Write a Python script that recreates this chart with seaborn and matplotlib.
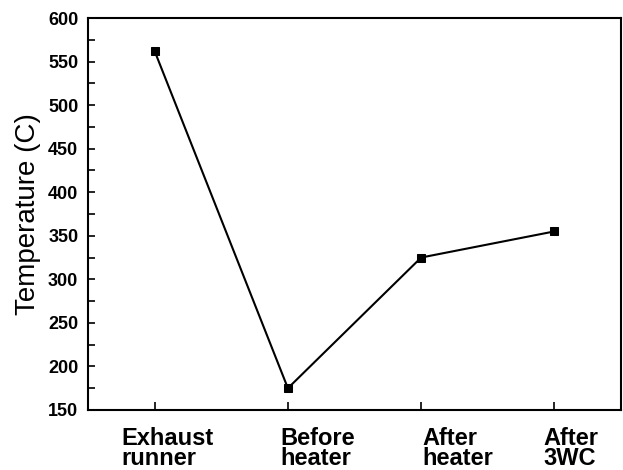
import matplotlib
matplotlib.use("Agg")
import matplotlib.pyplot as plt
import matplotlib.transforms as mtransforms
import seaborn as sns
import pandas as pd
from matplotlib.ticker import MultipleLocator

categories = ["Exhaust\nrunner", "Before\nheater", "After\nheater", "After\n3WC"]
temperatures = [562, 175, 325, 355]
# horizontal offsets of the category labels (left edge, relative to the tick)
label_offsets = [-0.25, -0.06, 0.01, -0.08]

df = pd.DataFrame({"pos": list(range(len(categories))), "temp": temperatures})

sns.set_style("ticks")
plt.rcParams["font.family"] = ["Liberation Sans", "DejaVu Sans"]
plt.rcParams.update({"text.color": "black", "axes.labelcolor": "black",
                     "xtick.color": "black", "ytick.color": "black",
                     "axes.edgecolor": "black"})

fig = plt.figure(figsize=(6.23, 4.70), dpi=100)
ax = fig.add_axes([0.1413, 0.1277, 0.8555, 0.834])

sns.lineplot(data=df, x="pos", y="temp", ax=ax, color="black", linewidth=1.5,
             marker="s", markersize=6, markeredgecolor="black", markerfacecolor="black")

ax.set_xlim(-0.5, 3.5)
ax.set_ylim(150, 600)
ax.set_xticks(range(len(categories)))
ax.set_xticklabels([])
trans = mtransforms.blended_transform_factory(ax.transData, ax.transAxes)
for i, (lab, off) in enumerate(zip(categories, label_offsets)):
    ax.text(i + off, -0.043, lab, transform=trans, ha="left", va="top",
            fontsize=17, fontweight="bold", linespacing=0.85, multialignment="left",
            color="black")

ax.yaxis.set_major_locator(MultipleLocator(50))
ax.yaxis.set_minor_locator(MultipleLocator(25))
for lbl in ax.get_yticklabels():
    lbl.set_fontweight("bold")
ax.tick_params(axis="both", which="both", colors="black")
ax.tick_params(axis="y", which="both", direction="in", length=5, width=1.2, labelsize=13, pad=7)
ax.tick_params(axis="x", direction="in", length=6, width=1.2)
ax.set_xlabel("")
ax.set_ylabel("Temperature (C)", fontsize=20, color="black")
ax.yaxis.set_label_coords(-0.088, 0.5)
for s in ax.spines.values():
    s.set_linewidth(1.5)
    s.set_color("black")
    s.set_visible(True)

fig.savefig("out.png", dpi=100)
